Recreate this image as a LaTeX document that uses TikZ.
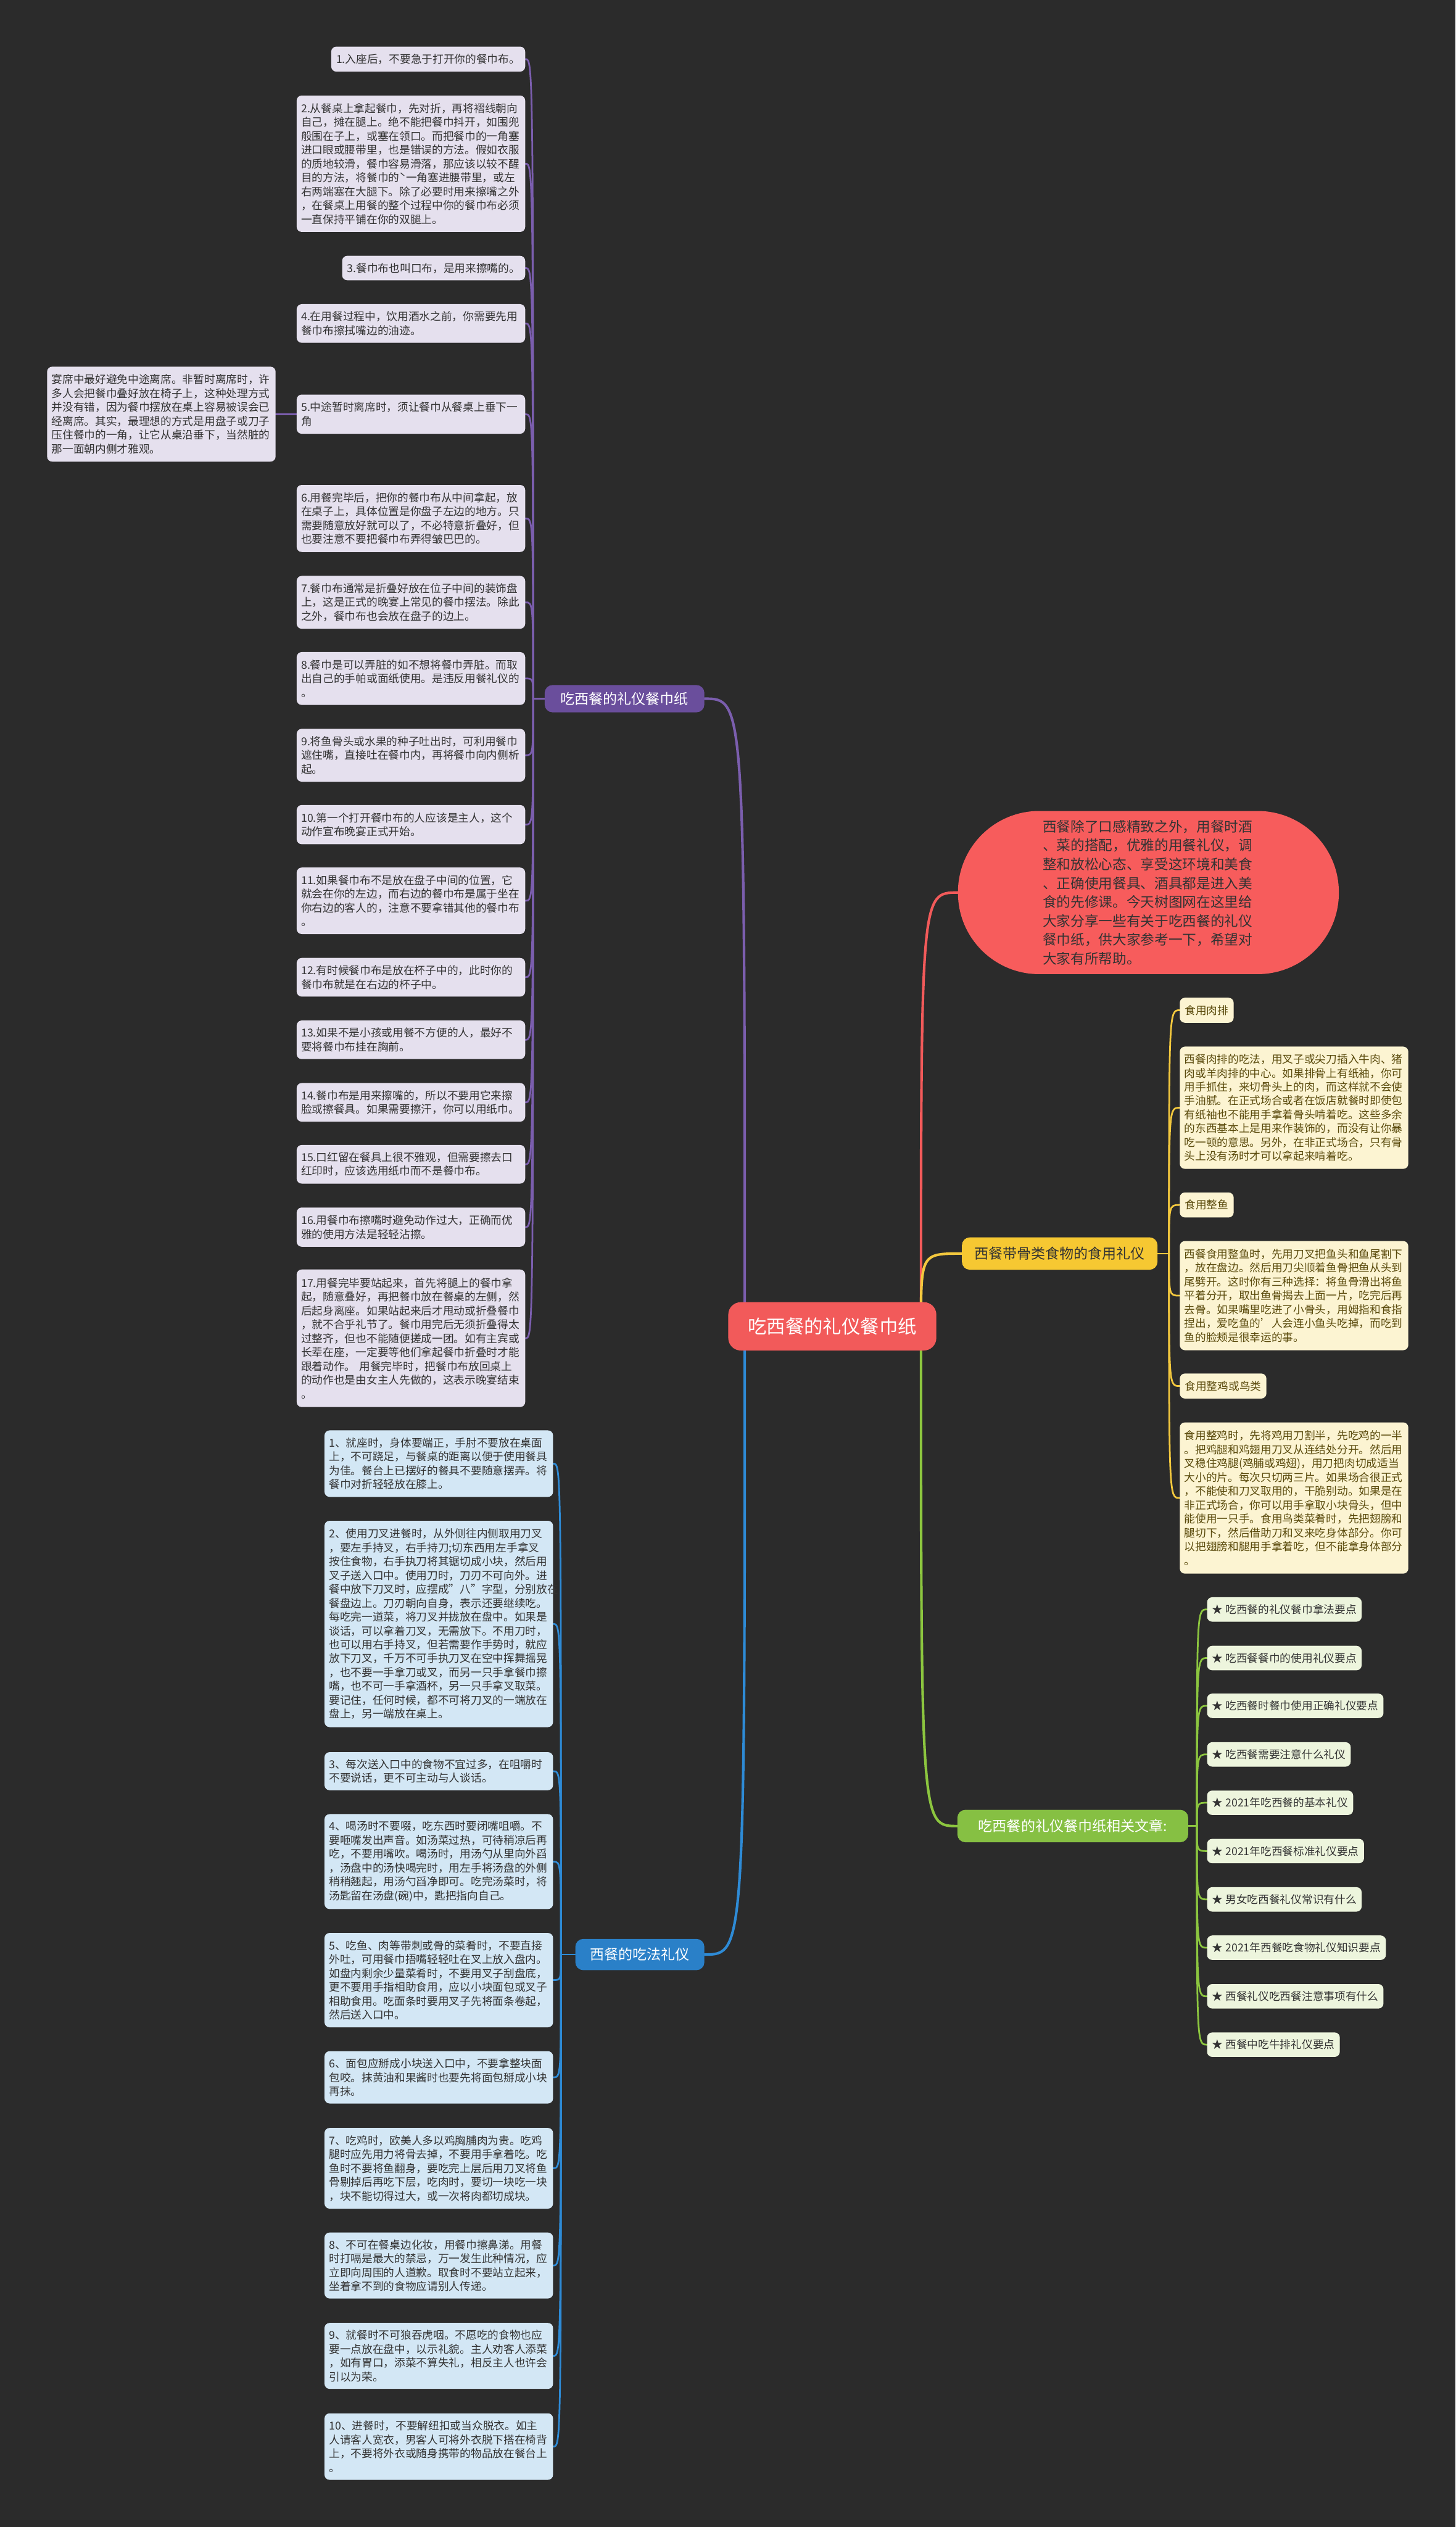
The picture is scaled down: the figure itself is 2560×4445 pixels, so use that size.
\documentclass[tikz,border=0pt]{standalone}
\usepackage{fontspec}
\setmainfont{Noto Sans CJK SC}
\usetikzlibrary{calc}
\definecolor{bgc}{HTML}{2B2B2B}
\definecolor{pfill}{HTML}{E5E0EE}
\definecolor{bfill}{HTML}{D3E7F5}
\definecolor{yfill}{HTML}{FCF4D2}
\definecolor{gfill}{HTML}{EDF5DD}
\definecolor{itemtext}{HTML}{333333}
\definecolor{ytext}{HTML}{5A4A0C}
\definecolor{pline}{HTML}{7B5EAE}
\definecolor{bline}{HTML}{2E8BD6}
\definecolor{yline}{HTML}{F3C83E}
\definecolor{gline}{HTML}{8CC63F}
\definecolor{rline}{HTML}{F25A5A}
\definecolor{cfill}{HTML}{F25A5A}
\definecolor{rfill}{HTML}{F75C5C}
\definecolor{pbfill}{HTML}{6A4E9C}
\definecolor{bbfill}{HTML}{2A80C8}
\definecolor{ybfill}{HTML}{F6C832}
\definecolor{gbfill}{HTML}{86C043}
\newcommand\myitemfont{\fontsize{19.2pt}{24.4pt}\selectfont}
\newcommand\mybranchfont{\fontsize{25pt}{30pt}\selectfont}
\pgfdeclarelayer{back}
\pgfdeclarelayer{lines}
\pgfsetlayers{back,lines,main}
\begin{document}
\begin{tikzpicture}[x=1pt,y=-1pt,
  itembase/.style={text=itemtext, rounded corners=9pt, font=\myitemfont, align=left, inner ysep=0pt},
  pitem/.style={itembase, fill=pfill, text width=386pt, inner xsep=8pt, anchor=east},
  pitemn/.style={itembase, fill=pfill, inner xsep=9pt, anchor=east},
  bitem/.style={itembase, fill=bfill, text width=386pt, inner xsep=8pt, anchor=east},
  ylab/.style={itembase, fill=yfill, text=ytext, inner xsep=9pt, anchor=west, minimum height=44pt},
  ybox/.style={itembase, fill=yfill, text=ytext, text width=386pt, inner xsep=8pt, anchor=west},
  gitem/.style={itembase, fill=gfill, inner xsep=9pt, anchor=west, minimum height=43pt},
  branch/.style={font=\mybranchfont, rounded corners=14pt, inner sep=0pt, align=center},
  conn/.style={line width=3pt, line cap=round},
  mainconn/.style={line width=4.5pt, line cap=round}
]
\useasboundingbox (0,0) rectangle (2560,4445);
\begin{pgfonlayer}{back}
\fill[bgc] (0,0) rectangle (2560,4445);
\end{pgfonlayer}

% ---------- central & branches ----------
\node[branch, fill=cfill, text=white, font=\fontsize{33pt}{38pt}\selectfont, rounded corners=22pt, minimum width=366pt, minimum height=85pt] (center) at (1464,2333) {吃西餐的礼仪餐巾纸};
\node[branch, fill=pbfill, text=white, minimum width=281pt, minimum height=48pt] (pb) at (1098.5,1229) {吃西餐的礼仪餐巾纸};
\node[branch, fill=bbfill, text=white, minimum width=227pt, minimum height=55pt] (bb) at (1125.5,3438) {西餐的吃法礼仪};
\node[branch, fill=ybfill, text=itemtext, minimum width=344pt, minimum height=57pt] (yb) at (1864,2205) {西餐带骨类食物的食用礼仪};
\node[branch, fill=gbfill, text=white, minimum width=406pt, minimum height=57pt] (gb) at (1887,3212) {吃西餐的礼仪餐巾纸相关文章:};
\node[fill=rfill, text=itemtext, rounded corners=143pt, minimum width=670pt, minimum height=287pt, text width=372pt, align=left, inner sep=0pt, font=\fontsize{24.6pt}{33.2pt}\selectfont] (intro) at (2020,1570) {西餐除了口感精致之外，用餐时酒\\、菜的搭配，优雅的用餐礼仪，调\\整和放松心态、享受这环境和美食\\、正确使用餐具、酒具都是进入美\\食的先修课。今天树图网在这里给\\大家分享一些有关于吃西餐的礼仪\\餐巾纸，供大家参考一下，希望对\\大家有所帮助。};

% ---------- purple items ----------
\node[pitemn, minimum height=44pt] (p1) at (924,104) {1.入座后，不要急于打开你的餐巾布。};
\node[pitem, minimum height=240pt] (p2) at (924,288) {2.从餐桌上拿起餐巾，先对折，再将褶线朝向\\自己，摊在腿上。绝不能把餐巾抖开，如围兜\\般围在子上，或塞在领口。而把餐巾的一角塞\\进口眼或腰带里，也是错误的方法。假如衣服\\的质地较滑，餐巾容易滑落，那应该以较不醒\\目的方法，将餐巾的ˋ一角塞进腰带里，或左\\右两端塞在大腿下。除了必要时用来擦嘴之外\\，在餐桌上用餐的整个过程中你的餐巾布必须\\一直保持平铺在你的双腿上。};
\node[pitemn, minimum height=43pt] (p3) at (924,471.5) {3.餐巾布也叫口布，是用来擦嘴的。};
\node[pitem, minimum height=68pt] (p4) at (924,569) {4.在用餐过程中，饮用酒水之前，你需要先用\\餐巾布擦拭嘴边的油迹。};
\node[pitem, minimum height=69pt] (p5) at (924,728.5) {5.中途暂时离席时，须让餐巾从餐桌上垂下一\\角};
\node[pitem, minimum height=118pt] (p6) at (924,912) {6.用餐完毕后，把你的餐巾布从中间拿起，放\\在桌子上，具体位置是你盘子左边的地方。只\\需要随意放好就可以了，不必特意折叠好，但\\也要注意不要把餐巾布弄得皱巴巴的。};
\node[pitem, minimum height=93pt] (p7) at (924,1059.5) {7.餐巾布通常是折叠好放在位子中间的装饰盘\\上，这是正式的晚宴上常见的餐巾摆法。除此\\之外，餐巾布也会放在盘子的边上。};
\node[pitem, minimum height=93pt] (p8) at (924,1193.5) {8.餐巾是可以弄脏的如不想将餐巾弄脏。而取\\出自己的手帕或面纸使用。是违反用餐礼仪的\\。};
\node[pitem, minimum height=93pt] (p9) at (924,1328.5) {9.将鱼骨头或水果的种子吐出时，可利用餐巾\\遮住嘴，直接吐在餐巾内，再将餐巾向内侧析\\起。};
\node[pitem, minimum height=69pt] (p10) at (924,1450.5) {10.第一个打开餐巾布的人应该是主人，这个\\动作宣布晚宴正式开始。};
\node[pitem, minimum height=117pt] (p11) at (924,1584.5) {11.如果餐巾布不是放在盘子中间的位置，它\\就会在你的左边，而右边的餐巾布是属于坐在\\你右边的客人的，注意不要拿错其他的餐巾布\\。};
\node[pitem, minimum height=68pt] (p12) at (924,1719) {12.有时候餐巾布是放在杯子中的，此时你的\\餐巾布就是在右边的杯子中。};
\node[pitem, minimum height=68pt] (p13) at (924,1829) {13.如果不是小孩或用餐不方便的人，最好不\\要将餐巾布挂在胸前。};
\node[pitem, minimum height=68pt] (p14) at (924,1939) {14.餐巾布是用来擦嘴的，所以不要用它来擦\\脸或擦餐具。如果需要擦汗，你可以用纸巾。};
\node[pitem, minimum height=68pt] (p15) at (924,2048) {15.口红留在餐具上很不雅观，但需要擦去口\\红印时，应该选用纸巾而不是餐巾布。};
\node[pitem, minimum height=69pt] (p16) at (924,2158.5) {16.用餐巾布擦嘴时避免动作过大，正确而优\\雅的使用方法是轻轻沾擦。};
\node[pitem, minimum height=242pt] (p17) at (924,2354) {17.用餐完毕要站起来，首先将腿上的餐巾拿\\起，随意叠好，再把餐巾放在餐桌的左侧，然\\后起身离座。如果站起来后才甩动或折叠餐巾\\，就不合乎礼节了。餐巾用完后无须折叠得太\\过整齐，但也不能随便搓成一团。如有主宾或\\长辈在座，一定要等他们拿起餐巾折叠时才能\\跟着动作。~用餐完毕时，把餐巾布放回桌上\\的动作也是由女主人先做的，这表示晚宴结束\\。};
\node[pitem, minimum height=167pt] (p5a) at (485,728.5) {宴席中最好避免中途离席。非暂时离席时，许\\多人会把餐巾叠好放在椅子上，这种处理方式\\并没有错，因为餐巾摆放在桌上容易被误会已\\经离席。其实，最理想的方式是用盘子或刀子\\压住餐巾的一角，让它从桌沿垂下，当然脏的\\那一面朝内侧才雅观。};

% ---------- blue items ----------
\node[bitem, minimum height=117pt] (b1) at (973,2574.5) {1、就座时，身体要端正，手肘不要放在桌面\\上，不可跷足，与餐桌的距离以便于使用餐具\\为佳。餐台上已摆好的餐具不要随意摆弄。将\\餐巾对折轻轻放在膝上。};
\node[bitem, minimum height=363pt] (b2) at (973,2856.5) {2、使用刀叉进餐时，从外侧往内侧取用刀叉\\，要左手持叉，右手持刀;切东西用左手拿叉\\按住食物，右手执刀将其锯切成小块，然后用\\叉子送入口中。使用刀时，刀刃不可向外。进\\餐中放下刀叉时，应摆成"八"字型，分别放在\\餐盘边上。刀刃朝向自身，表示还要继续吃。\\每吃完一道菜，将刀叉并拢放在盘中。如果是\\谈话，可以拿着刀叉，无需放下。不用刀时，\\也可以用右手持叉，但若需要作手势时，就应\\放下刀叉，千万不可手执刀叉在空中挥舞摇晃\\，也不要一手拿刀或叉，而另一只手拿餐巾擦\\嘴，也不可一手拿酒杯，另一只手拿叉取菜。\\要记住，任何时候，都不可将刀叉的一端放在\\盘上，另一端放在桌上。};
\node[bitem, minimum height=67pt] (b3) at (973,3115.5) {3、每次送入口中的食物不宜过多，在咀嚼时\\不要说话，更不可主动与人谈话。};
\node[bitem, minimum height=167pt] (b4) at (973,3274.5) {4、喝汤时不要啜，吃东西时要闭嘴咀嚼。不\\要咂嘴发出声音。如汤菜过热，可待稍凉后再\\吃，不要用嘴吹。喝汤时，用汤勺从里向外舀\\，汤盘中的汤快喝完时，用左手将汤盘的外侧\\稍稍翘起，用汤勺舀净即可。吃完汤菜时，将\\汤匙留在汤盘(碗)中，匙把指向自己。};
\node[bitem, minimum height=166pt] (b5) at (973,3483) {5、吃鱼、肉等带刺或骨的菜肴时，不要直接\\外吐，可用餐巾捂嘴轻轻吐在叉上放入盘内。\\如盘内剩余少量菜肴时，不要用叉子刮盘底，\\更不要用手指相助食用，应以小块面包或叉子\\相助食用。吃面条时要用叉子先将面条卷起，\\然后送入口中。};
\node[bitem, minimum height=92pt] (b6) at (973,3654) {6、面包应掰成小块送入口中，不要拿整块面\\包咬。抹黄油和果酱时也要先将面包掰成小块\\再抹。};
\node[bitem, minimum height=142pt] (b7) at (973,3814) {7、吃鸡时，欧美人多以鸡胸脯肉为贵。吃鸡\\腿时应先用力将骨去掉，不要用手拿着吃。吃\\鱼时不要将鱼翻身，要吃完上层后用刀叉将鱼\\骨剔掉后再吃下层，吃肉时，要切一块吃一块\\，块不能切得过大，或一次将肉都切成块。};
\node[bitem, minimum height=116pt] (b8) at (973,3985) {8、不可在餐桌边化妆，用餐巾擦鼻涕。用餐\\时打嗝是最大的禁忌，万一发生此种情况，应\\立即向周围的人道歉。取食时不要站立起来，\\坐着拿不到的食物应请别人传递。};
\node[bitem, minimum height=116pt] (b9) at (973,4144) {9、就餐时不可狼吞虎咽。不愿吃的食物也应\\要一点放在盘中，以示礼貌。主人劝客人添菜\\，如有胃口，添菜不算失礼，相反主人也许会\\引以为荣。};
\node[bitem, minimum height=117pt] (b10) at (973,4303.5) {10、进餐时，不要解纽扣或当众脱衣。如主\\人请客人宽衣，男客人可将外衣脱下搭在椅背\\上，不要将外衣或随身携带的物品放在餐台上\\。};

% ---------- yellow items ----------
\node[ylab] (y1) at (2075,1777) {食用肉排};
\node[ybox, minimum height=215pt] (y2) at (2075,1948.5) {西餐肉排的吃法，用叉子或尖刀插入牛肉、猪\\肉或羊肉排的中心。如果排骨上有纸袖，你可\\用手抓住，来切骨头上的肉，而这样就不会使\\手油腻。在正式场合或者在饭店就餐时即使包\\有纸袖也不能用手拿着骨头啃着吃。这些多余\\的东西基本上是用来作装饰的，而没有让你暴\\吃一顿的意思。另外，在非正式场合，只有骨\\头上没有汤时才可以拿起来啃着吃。};
\node[ylab] (y3) at (2075,2119.5) {食用整鱼};
\node[ybox, minimum height=192pt] (y4) at (2075,2279) {西餐食用整鱼时，先用刀叉把鱼头和鱼尾割下\\，放在盘边。然后用刀尖顺着鱼骨把鱼从头到\\尾劈开。这时你有三种选择：将鱼骨滑出将鱼\\平着分开，取出鱼骨揭去上面一片，吃完后再\\去骨。如果嘴里吃进了小骨头，用姆指和食指\\捏出，爱吃鱼的'人会连小鱼头吃掉，而吃到\\鱼的脸颊是很幸运的事。};
\node[ylab] (y5) at (2075,2438) {食用整鸡或鸟类};
\node[ybox, minimum height=266pt] (y6) at (2075,2635) {食用整鸡时，先将鸡用刀割半，先吃鸡的一半\\。把鸡腿和鸡翅用刀叉从连结处分开。然后用\\叉稳住鸡腿(鸡脯或鸡翅)，用刀把肉切成适当\\大小的片。每次只切两三片。如果场合很正式\\，不能使和刀叉取用的，干脆别动。如果是在\\非正式场合，你可以用手拿取小块骨头，但中\\能使用一只手。食用鸟类菜肴时，先把翅膀和\\腿切下，然后借助刀和叉来吃身体部分。你可\\以把翅膀和腿用手拿着吃，但不能拿身体部分\\。};

% ---------- green items ----------
\node[gitem] (g1) at (2123,2831) {★ 吃西餐的礼仪餐巾拿法要点};
\node[gitem] (g2) at (2123,2916.5) {★ 吃西餐餐巾的使用礼仪要点};
\node[gitem] (g3) at (2123,3000.5) {★ 吃西餐时餐巾使用正确礼仪要点};
\node[gitem] (g4) at (2123,3086) {★ 吃西餐需要注意什么礼仪};
\node[gitem] (g5) at (2123,3171) {★ 2021年吃西餐的基本礼仪};
\node[gitem] (g6) at (2123,3256) {★ 2021年吃西餐标准礼仪要点};
\node[gitem] (g7) at (2123,3341) {★ 男女吃西餐礼仪常识有什么};
\node[gitem] (g8) at (2123,3426) {★ 2021年西餐吃食物礼仪知识要点};
\node[gitem] (g9) at (2123,3511.5) {★ 西餐礼仪吃西餐注意事项有什么};
\node[gitem] (g10) at (2123,3596.5) {★ 西餐中吃牛排礼仪要点};

% ---------- connectors ----------
\begin{pgfonlayer}{lines}
\coordinate (cl) at (1310,2333);
\coordinate (cr) at (1620,2333);
\draw[mainconn, pline] (cl) .. controls (cl |- pb.east) .. (pb.east);
\draw[mainconn, bline] (cl) .. controls (cl |- bb.east) .. (bb.east);
\draw[mainconn, rline] (cr) .. controls (cr |- intro.west) .. (intro.west);
\draw[mainconn, yline] (cr) .. controls (cr |- yb.west) .. (yb.west);
\draw[mainconn, gline] (cr) .. controls (cr |- gb.west) .. (gb.west);

\draw[conn, pline] (pb.west) -- ++(-20,0) coordinate (pp);
\foreach \n in {p1,p2,p3,p4,p5,p6,p7,p8,p9,p10,p11,p12,p13,p14,p15,p16,p17}
  \draw[conn, pline] (pp) .. controls (pp |- \n.east) .. (\n.east);
\draw[conn, pline] (p5.west) -- (p5a.east);

\draw[conn, bline] (bb.west) -- ++(-25,0) coordinate (bp);
\foreach \n in {b1,b2,b3,b4,b5,b6,b7,b8,b9,b10}
  \draw[conn, bline] (bp) .. controls (bp |- \n.east) .. (\n.east);

\draw[conn, yline] (yb.east) -- ++(20,0) coordinate (yp);
\foreach \n in {y1,y2,y3,y4,y5,y6}
  \draw[conn, yline] (yp) .. controls (yp |- \n.west) .. (\n.west);

\draw[conn, gline] (gb.east) -- ++(15,0) coordinate (gp);
\foreach \n in {g1,g2,g3,g4,g5,g6,g7,g8,g9,g10}
  \draw[conn, gline] (gp) .. controls (gp |- \n.west) .. (\n.west);
\end{pgfonlayer}
\end{tikzpicture}
\end{document}
